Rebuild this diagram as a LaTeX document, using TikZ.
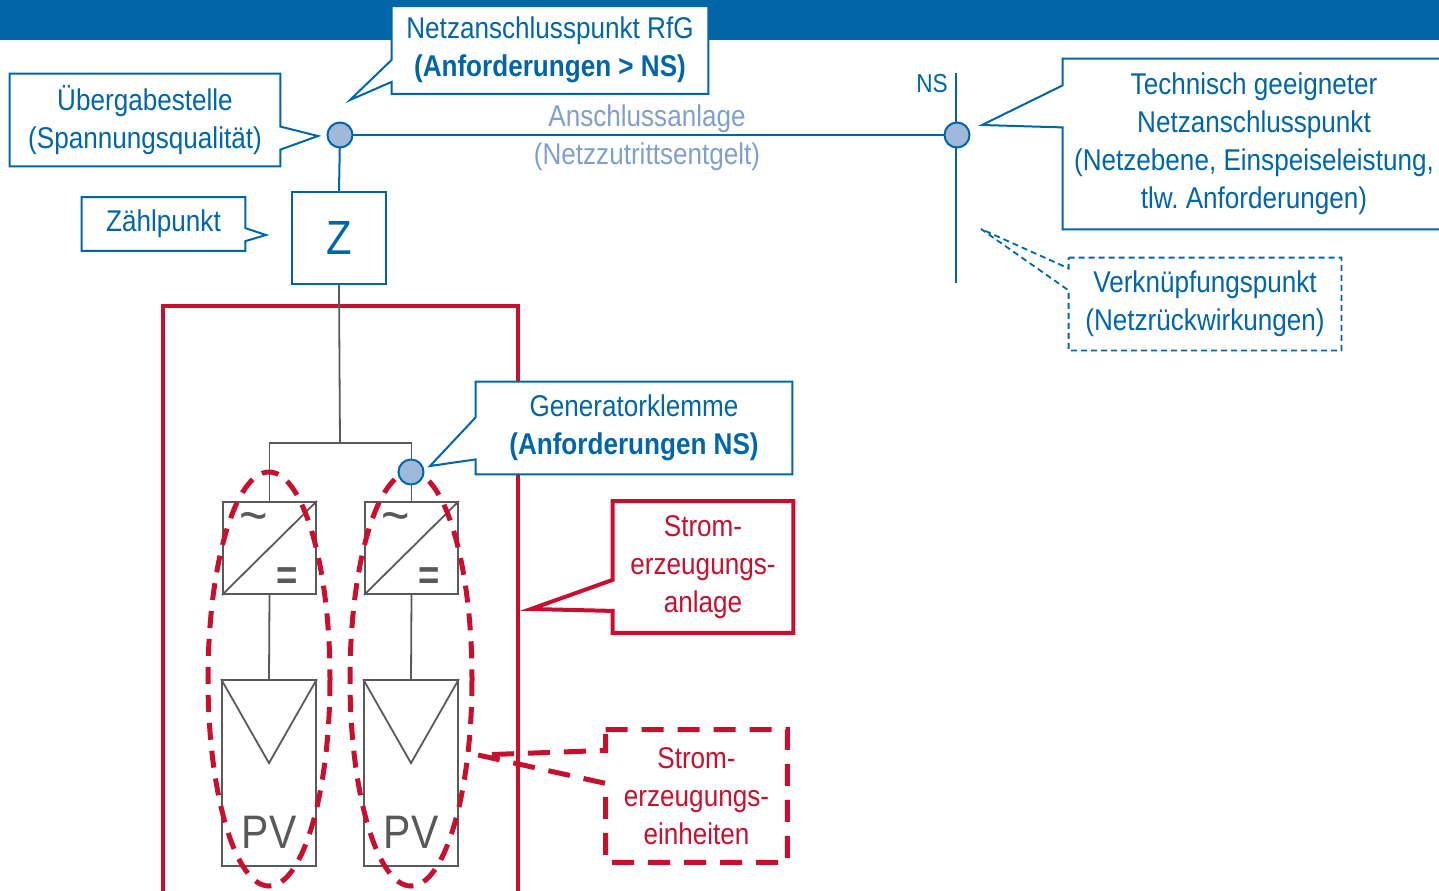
\documentclass[tikz,border=0pt]{standalone}
\usepackage{fontspec}
\setmainfont{Liberation Sans}[FakeStretch=0.87]
\usetikzlibrary{calc}
\definecolor{eblue}{RGB}{0,102,168}
\definecolor{lblue}{RGB}{160,185,218}
\definecolor{tblue}{RGB}{127,160,205}
\definecolor{egray}{RGB}{89,89,89}
\definecolor{ered}{RGB}{200,16,46}
\begin{document}
\begin{tikzpicture}[x=0.5pt,y=-0.5pt,
  txt/.style={font=\fontsize{15}{19}\selectfont, align=center, inner sep=0pt},
  cbox/.style={txt, text=eblue, fill=white, minimum width=#1},
  rbox/.style={txt, text=ered, fill=white, minimum width=#1},
  bline/.style={draw=eblue, line width=1pt},
  gline/.style={draw=egray, line width=0.9pt},
  cline/.style={draw=eblue, line width=1pt, line join=miter},
  cdash/.style={draw=eblue, line width=0.9pt, dash pattern=on 3pt off 2pt},
  rline/.style={draw=ered, line width=2pt},
  rdash/.style={draw=ered, line width=2.5pt, dash pattern=on 11pt off 7pt},
  edash/.style={draw=ered, line width=2.5pt, dash pattern=on 8.5pt off 5.5pt},
  pnode/.style={circle, draw=eblue, fill=lblue, line width=1pt, minimum size=12.5pt, inner sep=0pt},
  inv/.style={draw=egray, line width=0.9pt, minimum width=46.5pt, minimum height=46pt, inner sep=0pt},
  pvbox/.style={draw=egray, line width=0.9pt, minimum width=47pt, minimum height=93pt, inner sep=0pt},
  sym/.style={text=egray, inner sep=0pt, font=\fontsize{28}{28}\selectfont}
]
\useasboundingbox (0,0) rectangle (1439,890);
% banner
\fill[eblue] (0,0) rectangle (1439,40);

\coordinate (c1) at (340,135);
\coordinate (c2) at (957,135);
\coordinate (c3) at (411,472);
\coordinate (nsTop) at (956,73);
\coordinate (nsBot) at (956,283);
\coordinate (jn) at (340,443);

% Z box
\node[draw=eblue, line width=1pt, minimum width=47pt, minimum height=46pt, inner sep=0pt,
      text=eblue, font=\fontsize{24}{24}\selectfont] (Z) at (339,238) {Z};

% grid lines
\draw[bline] (c1) -- (c2);
\draw[bline] (c1) -- (Z.north);
\draw[bline] (nsTop) -- (nsBot);
\node[text=eblue, font=\fontsize{13}{13}\selectfont, inner sep=0pt] (ns) at (932,84) {NS};
\node[txt, text=tblue] (anl) at (647,138) {Anschlussanlage\\(Netzzutrittsentgelt)};

% red plant box
\draw[rline] (163,306) rectangle (518,900);

% inverters and PV
\node[inv] (inv1) at (269.5,548) {};
\node[inv] (inv2) at (411.5,548) {};
\node[pvbox] (pv1) at (269,773) {};
\node[pvbox] (pv2) at (411,773) {};

\draw[gline] (Z.south) -- (jn);
\draw[gline] (inv1.north) |- (jn) -| (inv2.north);
\draw[gline] (inv1.south) -- (pv1.north);
\draw[gline] (inv2.south) -- (pv2.north);
\draw[gline] (inv1.south west) -- (inv1.north east);
\draw[gline] (inv2.south west) -- (inv2.north east);
\node[sym] at ([shift={(-16,-25)}]inv1.center) {\textasciitilde};
\node[sym] at ([shift={(-16,-25)}]inv2.center) {\textasciitilde};
\node[sym, font=\fontsize{21}{21}\selectfont\bfseries] at ([shift={(17.5,31)}]inv1.center) {=};
\node[sym, font=\fontsize{21}{21}\selectfont\bfseries] at ([shift={(17.5,31)}]inv2.center) {=};
\draw[gline] (pv1.north west) -- ([yshift=-42pt]pv1.north) -- (pv1.north east);
\draw[gline] (pv2.north west) -- ([yshift=-42pt]pv2.north) -- (pv2.north east);
\node[text=egray, inner sep=0pt, font=\fontsize{23.5}{23.5}\selectfont] at ([yshift=-29.5pt]pv1.center) {PV};
\node[text=egray, inner sep=0pt, font=\fontsize{23.5}{23.5}\selectfont] at ([yshift=-29.5pt]pv2.center) {PV};

% dashed ellipses (units)
\draw[edash] (269,679) ellipse [x radius=61, y radius=207];
\draw[edash] (411,679) ellipse [x radius=61, y radius=207];

% ---- callouts ----
% Netzanschlusspunkt RfG
\coordinate (tA) at (350,100);
\node[cbox=158pt, minimum height=43.5pt] (nrfg) at (550,50)
  {Netzanschlusspunkt RfG\\\textbf{(Anforderungen > NS)}};
\draw[cline] (nrfg.north west) -- (nrfg.north east) -- (nrfg.south east) -- (nrfg.south west)
  -- ([yshift=6pt]nrfg.south west) -- (tA) -- ([yshift=17pt]nrfg.south west) -- cycle;

% Uebergabestelle
\coordinate (tB) at (318,136);
\node[cbox=135pt, minimum height=46pt] (ueb) at (145,120)
  {Übergabestelle\\(Spannungsqualität)};
\draw[cline] (ueb.north west) -- (ueb.north east) -- ([yshift=-26.5pt]ueb.north east) -- (tB)
  -- ([yshift=-38pt]ueb.north east) -- (ueb.south east) -- (ueb.south west) -- cycle;

% Zaehlpunkt
\coordinate (tC) at (266,235);
\node[cbox=81.5pt, minimum height=26.5pt] (zp) at (163.5,224) {Zählpunkt};
\draw[cline] (zp.north west) -- (zp.north east) -- ([yshift=-15.5pt]zp.north east) -- (tC)
  -- ([yshift=-22pt]zp.north east) -- (zp.south east) -- (zp.south west) -- cycle;

% Generatorklemme
\coordinate (tD) at (430,466);
\node[cbox=158pt, minimum height=46pt] (gen) at (634,428)
  {Generatorklemme\\\textbf{(Anforderungen NS)}};
\draw[cline] (gen.north west) -- (gen.north east) -- (gen.south east) -- (gen.south west)
  -- ([yshift=7.5pt]gen.south west) -- (tD) -- ([yshift=28.5pt]gen.south west) -- cycle;

% Stromerzeugungsanlage
\coordinate (tE) at (531,609);
\node[rbox=90pt, minimum height=65.5pt] (sea) at (703,567)
  {Strom-\\erzeugungs-\\anlage};
\draw[rline, line join=miter] (sea.north west) -- (sea.north east) -- (sea.south east) -- (sea.south west)
  -- ([yshift=11pt]sea.south west) -- (tE) -- ([yshift=26.5pt]sea.south west) -- cycle;

% Stromerzeugungseinheiten
\coordinate (tF) at (478,755);
\node[rbox=90.5pt, minimum height=66pt] (seh) at (696.5,796)
  {Strom-\\erzeugungs-\\einheiten};
\draw[rdash] (seh.north west) -- (seh.north east) -- (seh.south east) -- (seh.south west)
  -- ([yshift=39.5pt]seh.south west) -- (tF) -- ([yshift=56pt]seh.south west) -- cycle;

% Technisch geeigneter Netzanschlusspunkt
\coordinate (tG) at (982,125);
\node[cbox=191pt, minimum height=85pt] (tech) at (1254,144)
  {Technisch geeigneter\\Netzanschlusspunkt\\(Netzebene, Einspeiseleistung,\\tlw.\ Anforderungen)};
\draw[cline] (tech.north west) -- (tech.north east) -- (tech.south east) -- (tech.south west)
  -- ([yshift=51pt]tech.south west) -- (tG) -- ([yshift=72pt]tech.south west) -- cycle;

% Verknuepfungspunkt
\coordinate (tH) at (981,229);
\node[cbox=136pt, minimum height=46pt] (vkp) at (1205,304)
  {Verknüpfungspunkt\\(Netzrückwirkungen)};
\draw[cdash] (vkp.north west) -- (vkp.north east) -- (vkp.south east) -- (vkp.south west)
  -- ([yshift=30pt]vkp.south west) -- (tH) -- ([yshift=41pt]vkp.south west) -- cycle;

% connection points on top
\node[pnode] (p1) at (c1) {};
\node[pnode] (p2) at (c2) {};
\node[pnode] (p3) at (c3) {};
\end{tikzpicture}
\end{document}
